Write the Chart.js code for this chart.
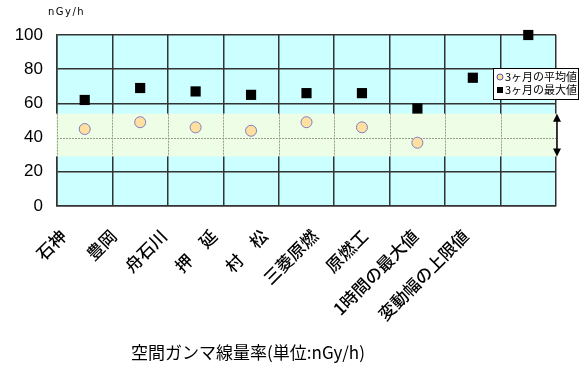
<!DOCTYPE html>
<html>
<head>
<meta charset="utf-8">
<script src="https://cdn.jsdelivr.net/npm/chart.js@4.4.1/dist/chart.umd.min.js"></script>
<style>
  html, body { margin: 0; padding: 0; background: #fff; }
  #wrap { width: 580px; height: 384px; }
</style>
</head>
<body>
<div id="wrap"><canvas id="grafico" width="580" height="384"></canvas></div>
<script>
// Datos del gráfico
const categorias = ['石神', '豊岡', '舟石川', '押　延', '村　松', '三菱原燃', '原燃工', '1時間の最大値', '変動幅の上限値'];
const promedio3m = [45, 49, 46, 44, 49, 46, 37, null, null];
const maximo3m = [62, 69, 67, 65, 66, 66, 57, 75, 100];
const rangoVariacion = [29, 54];
const yTicks = [0, 20, 40, 60, 80, 100];
const nombreSeries = ['3ヶ月の平均値', '3ヶ月の最大値'];
const titulo = '空間ガンマ線量率(単位:nGy/h)';
const unidad = 'nGy/h';

const fuenteJP = "'Noto Sans CJK JP', sans-serif";

// Fondo, banda verde, flecha, etiquetas y leyenda
const decoracion = {
    id: 'decoracion',
    beforeDraw(chart) {
        const { ctx, chartArea: a } = chart;
        ctx.save();
        ctx.fillStyle = '#ccffff';
        ctx.fillRect(a.left, a.top, a.right - a.left, a.bottom - a.top);
        ctx.restore();
    },
    beforeDatasetsDraw(chart) {
        const { ctx, chartArea: a, scales } = chart;
        const y1 = scales.y.getPixelForValue(rangoVariacion[1]);
        const y0 = scales.y.getPixelForValue(rangoVariacion[0]);
        ctx.save();
        ctx.fillStyle = '#eefde6';
        ctx.fillRect(a.left - 1, y1, a.right - a.left + 2, y0 - y1);
        // lineas punteadas dentro de la banda
        ctx.strokeStyle = '#9a9a8a';
        ctx.lineWidth = 1;
        ctx.setLineDash([2, 1]);
        ctx.beginPath();
        yTicks.forEach(function(v) {
            if (v > rangoVariacion[0] && v < rangoVariacion[1]) {
                const yy = Math.round(scales.y.getPixelForValue(v)) + 0.5;
                ctx.moveTo(a.left, yy);
                ctx.lineTo(a.right, yy);
            }
        });
        for (let i = 0; i <= categorias.length; i++) {
            const xx = Math.round(scales.x.getPixelForValue(i - 0.5)) + 0.5;
            ctx.moveTo(xx, y1);
            ctx.lineTo(xx, y0);
        }
        ctx.stroke();
        ctx.setLineDash([]);

        // flecha doble del rango
        const ax = a.right + 1;
        ctx.strokeStyle = '#000';
        ctx.fillStyle = '#000';
        ctx.lineWidth = 1.5;
        ctx.beginPath();
        ctx.moveTo(ax, y1 + 6);
        ctx.lineTo(ax, y0 - 6);
        ctx.stroke();
        ctx.beginPath();
        ctx.moveTo(ax, y1);
        ctx.lineTo(ax - 4, y1 + 8);
        ctx.lineTo(ax + 4, y1 + 8);
        ctx.closePath();
        ctx.fill();
        ctx.beginPath();
        ctx.moveTo(ax, y0);
        ctx.lineTo(ax - 4, y0 - 8);
        ctx.lineTo(ax + 4, y0 - 8);
        ctx.closePath();
        ctx.fill();
        ctx.restore();
    },
    afterDraw(chart) {
        const { ctx, chartArea: a, scales } = chart;
        ctx.save();

        // unidad arriba del eje y
        ctx.fillStyle = '#000';
        ctx.font = '10px "DejaVu Sans", sans-serif';
        ctx.letterSpacing = '1.5px';
        ctx.textAlign = 'left';
        ctx.textBaseline = 'middle';
        ctx.fillText(unidad, 48, 12);
        ctx.letterSpacing = '0px';

        // etiquetas de categoria giradas 45°
        ctx.font = '500 17px ' + fuenteJP;
        ctx.textAlign = 'right';
        ctx.textBaseline = 'middle';
        categorias.forEach(function(lbl, i) {
            const cx = scales.x.getPixelForValue(i);
            const ex = a.left + (cx - a.left) * 0.907 - 19;
            ctx.save();
            ctx.translate(ex, a.bottom + 27);
            ctx.rotate(-Math.PI / 4);
            ctx.fillText(lbl, 0, 0);
            ctx.restore();
        });

        // titulo inferior
        ctx.font = '17px ' + fuenteJP;
        ctx.textAlign = 'center';
        ctx.textBaseline = 'middle';
        ctx.fillText(titulo, 248, 353);

        // leyenda
        const lx = a.right - 63, ly = 68, lw = 86, lh = 32;
        ctx.fillStyle = '#fff';
        ctx.fillRect(lx, ly, lw, lh);
        ctx.strokeStyle = '#000';
        ctx.lineWidth = 1;
        ctx.strokeRect(lx + 0.5, ly + 0.5, lw - 1, lh - 1);
        ctx.beginPath();
        ctx.arc(lx + 7, ly + 9, 3, 0, Math.PI * 2);
        ctx.fillStyle = '#ffe0a0';
        ctx.fill();
        ctx.strokeStyle = '#5555aa';
        ctx.stroke();
        ctx.fillStyle = '#000';
        ctx.fillRect(lx + 4, ly + 19, 6, 6);
        ctx.font = '11px ' + fuenteJP;
        ctx.textAlign = 'left';
        ctx.fillText(nombreSeries[0], lx + 12, ly + 9);
        ctx.fillText(nombreSeries[1], lx + 12, ly + 22);
        ctx.restore();
    }
};

new Chart(document.getElementById('grafico'), {
    type: 'line',
    data: {
        labels: categorias,
        datasets: [
            {
                label: nombreSeries[0],
                data: promedio3m,
                showLine: false,
                clip: false,
                pointStyle: 'circle',
                pointRadius: 5.5,
                pointBackgroundColor: '#ffe0a0',
                pointBorderColor: '#8080c0',
                pointBorderWidth: 1
            },
            {
                label: nombreSeries[1],
                data: maximo3m,
                showLine: false,
                clip: false,
                pointStyle: 'rect',
                pointRadius: 7.2,
                pointBackgroundColor: '#000',
                pointBorderColor: '#000',
                pointBorderWidth: 0
            }
        ]
    },
    options: {
        responsive: false,
        animation: false,
        layout: {
            padding: { top: 35, right: 24, left: 0, bottom: 0 }
        },
        plugins: {
            legend: { display: false },
            tooltip: { enabled: false }
        },
        scales: {
            x: {
                offset: true,
                grid: {
                    offset: true,
                    color: '#333',
                    lineWidth: 1.5,
                    drawTicks: false
                },
                border: { color: '#333', width: 1.5 },
                ticks: { display: false },
                afterFit: function(scale) { scale.height = 178; }
            },
            y: {
                min: 0,
                max: 100,
                afterBuildTicks: function(scale) {
                    scale.ticks = yTicks.map(function(v) { return { value: v }; });
                },
                grid: {
                    color: '#333',
                    lineWidth: 1.5,
                    drawTicks: false
                },
                border: { color: '#333', width: 1.5 },
                ticks: {
                    color: '#000',
                    padding: 14,
                    font: { family: "'Liberation Sans', Arial, sans-serif", size: 17 }
                },
                afterFit: function(scale) { scale.width = 57; }
            }
        }
    },
    plugins: [decoracion]
});
</script>
</body>
</html>
